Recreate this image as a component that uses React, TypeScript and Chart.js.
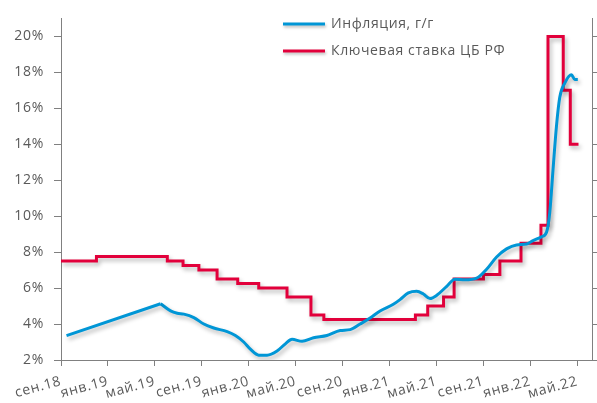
import React, { useEffect, useRef } from 'react';
import { Chart, registerables } from 'chart.js';

Chart.register(...registerables);

// x positions are months counted from сен.18
const tickMonths = [0, 4, 8, 12, 16, 20, 24, 28, 32, 36, 40, 44];
const tickLabels = ['сен.18', 'янв.19', 'май.19', 'сен.19', 'янв.20', 'май.20', 'сен.20', 'янв.21', 'май.21', 'сен.21', 'янв.22', 'май.22'];
const yTicks = [2, 4, 6, 8, 10, 12, 14, 16, 18, 20];

const inflationMonths = [0.47, 8.49, 9.34, 9.91, 10.47, 11.32, 12.17, 13.02, 14.16, 14.86, 15.57, 16.14, 16.85, 17.56, 18.41, 19.12, 19.69, 20.54, 21.52, 22.66, 23.79, 24.64, 25.49, 26.34, 27.19, 28.32, 28.89, 29.6, 30.31, 30.88, 31.45, 32.02, 32.87, 33.57, 34.42, 35.42, 36.27, 37.12, 37.97, 38.82, 39.67, 40.23, 40.94, 41.37, 41.65, 41.93, 42.22, 42.5, 42.93, 43.5, 43.78, 44.04];
const inflationValues = [3.36, 5.13, 4.73, 4.6, 4.55, 4.36, 4.0, 3.78, 3.58, 3.36, 3.0, 2.6, 2.27, 2.27, 2.5, 2.9, 3.15, 3.04, 3.24, 3.36, 3.64, 3.69, 4.0, 4.33, 4.73, 5.1, 5.36, 5.73, 5.82, 5.67, 5.42, 5.6, 6.1, 6.49, 6.46, 6.55, 7.05, 7.73, 8.18, 8.4, 8.45, 8.64, 8.85, 9.1, 10.2, 12.6, 15.0, 16.6, 17.4, 17.86, 17.6, 17.6];

const rateMonths = [0, 3.02, 9.06, 10.4, 11.75, 13.3, 15.06, 16.85, 19.26, 21.3, 22.4, 30.2, 31.25, 32.6, 33.5, 36.0, 37.4, 39.2, 40.9, 41.5, 42.8, 43.4, 44.1];
const rateValues = [7.5, 7.75, 7.5, 7.25, 7.0, 6.5, 6.25, 6.0, 5.5, 4.5, 4.25, 4.5, 5.0, 5.5, 6.5, 6.75, 7.5, 8.5, 9.5, 20, 17, 14, 14];

const seriesNames = ['Инфляция, г/г', 'Ключевая ставка ЦБ РФ'];
const BLUE = '#0096D6';
const RED = '#E2003B';
const AXIS = '#808080';
const TEXT = '#595959';
const FONT = "'Open Sans', sans-serif";

const spacingPlugin = {
  id: 'spacing',
  beforeDraw(chart: any) {
    (chart.ctx as any).letterSpacing = '0.7px';
  },
};

const shadowPlugin = {
  id: 'shadow',
  beforeDatasetsDraw(chart: any) {
    const ctx = chart.ctx;
    ctx.save();
    ctx.shadowColor = 'rgba(0,0,0,0.28)';
    ctx.shadowBlur = 4;
    ctx.shadowOffsetX = 2;
    ctx.shadowOffsetY = 3;
  },
  afterDatasetsDraw(chart: any) {
    chart.ctx.restore();
  },
};

const legendPlugin = {
  id: 'customLegend',
  afterDraw(chart: any) {
    const ctx = chart.ctx;
    const items = [
      { name: seriesNames[0], color: BLUE, y: 24 },
      { name: seriesNames[1], color: RED, y: 51 },
    ];
    ctx.save();
    items.forEach((it) => {
      ctx.shadowColor = 'rgba(0,0,0,0.25)';
      ctx.shadowBlur = 3;
      ctx.shadowOffsetX = 1;
      ctx.shadowOffsetY = 2;
      ctx.strokeStyle = it.color;
      ctx.lineWidth = 3;
      ctx.beginPath();
      ctx.moveTo(283, it.y);
      ctx.lineTo(325, it.y);
      ctx.stroke();
      ctx.shadowColor = 'transparent';
      ctx.fillStyle = TEXT;
      ctx.font = `14px ${FONT}`;
      ctx.textBaseline = 'middle';
      ctx.textAlign = 'left';
      (ctx as any).letterSpacing = '0.6px';
      ctx.fillText(it.name, 331, it.y);
    });
    ctx.restore();
  },
};

export default function App() {
  const ref = useRef<HTMLCanvasElement>(null);

  useEffect(() => {
    if (!ref.current) return;
    const inflation = inflationMonths.map((m, i) => ({ x: m, y: inflationValues[i] }));
    const rate = rateMonths.map((m, i) => ({ x: m, y: rateValues[i] }));
    const chart = new Chart(ref.current, {
      type: 'line',
      data: {
        datasets: [
          {
            label: seriesNames[0],
            data: inflation.slice(0, 2),
            borderColor: BLUE,
            borderWidth: 3,
            pointRadius: 0,
            tension: 0,
            fill: false,
          },
          {
            label: seriesNames[0],
            data: inflation.slice(1),
            borderColor: BLUE,
            borderWidth: 3,
            pointRadius: 0,
            cubicInterpolationMode: 'monotone',
            fill: false,
          },
          {
            label: seriesNames[1],
            data: rate,
            borderColor: RED,
            borderWidth: 3,
            pointRadius: 0,
            stepped: 'before',
            fill: false,
          },
        ],
      },
      options: {
        animation: false,
        responsive: false,
        devicePixelRatio: 1,
        layout: { padding: { top: 12, left: 0, right: 0, bottom: 0 } },
        plugins: { legend: { display: false }, tooltip: { enabled: false } },
        scales: {
          x: {
            type: 'linear',
            min: 0,
            max: 45.25,
            afterBuildTicks: (axis: any) => {
              axis.ticks = tickMonths.map((v) => ({ value: v }));
            },
            afterFit: (axis: any) => {
              axis.height = 43;
            },
            ticks: {
              autoSkip: false,
              minRotation: 15,
              maxRotation: 15,
              padding: 7,
              color: TEXT,
              font: { family: FONT, size: 14 },
              callback: (v: any) => {
                const i = tickMonths.indexOf(Number(v));
                return i >= 0 ? tickLabels[i] : '';
              },
            },
            grid: { display: true, drawOnChartArea: false, drawTicks: true, tickLength: 6, color: AXIS },
            border: { display: true, color: AXIS, width: 1 },
          },
          y: {
            position: 'left',
            min: 2,
            max: 21,
            afterBuildTicks: (axis: any) => {
              axis.ticks = yTicks.map((v) => ({ value: v }));
            },
            afterFit: (axis: any) => {
              axis.width = 61;
            },
            ticks: {
              padding: 10,
              color: TEXT,
              font: { family: FONT, size: 14 },
              callback: (v: any) => `${v}%`,
            },
            grid: { display: true, drawOnChartArea: false, drawTicks: true, tickLength: 7, color: AXIS },
            border: { display: true, color: AXIS, width: 1 },
          },
          y2: {
            position: 'right',
            min: 2,
            max: 21,
            afterBuildTicks: (axis: any) => {
              axis.ticks = yTicks.map((v) => ({ value: v }));
            },
            afterFit: (axis: any) => {
              axis.width = 5;
            },
            ticks: { display: true, color: 'rgba(0,0,0,0)', callback: () => '' },
            grid: { display: true, drawOnChartArea: false, drawTicks: true, tickLength: 5, color: AXIS },
            border: { display: true, color: AXIS, width: 1 },
          },
        },
      },
      plugins: [spacingPlugin, shadowPlugin, legendPlugin],
    } as any);
    return () => chart.destroy();
  }, []);

  return (
    <div style={{ position: 'absolute', left: 0, top: 0, width: 597, height: 403, background: '#fff' }}>
      <canvas ref={ref} width={597} height={403} style={{ display: 'block', width: 597, height: 403 }} />
    </div>
  );
}
